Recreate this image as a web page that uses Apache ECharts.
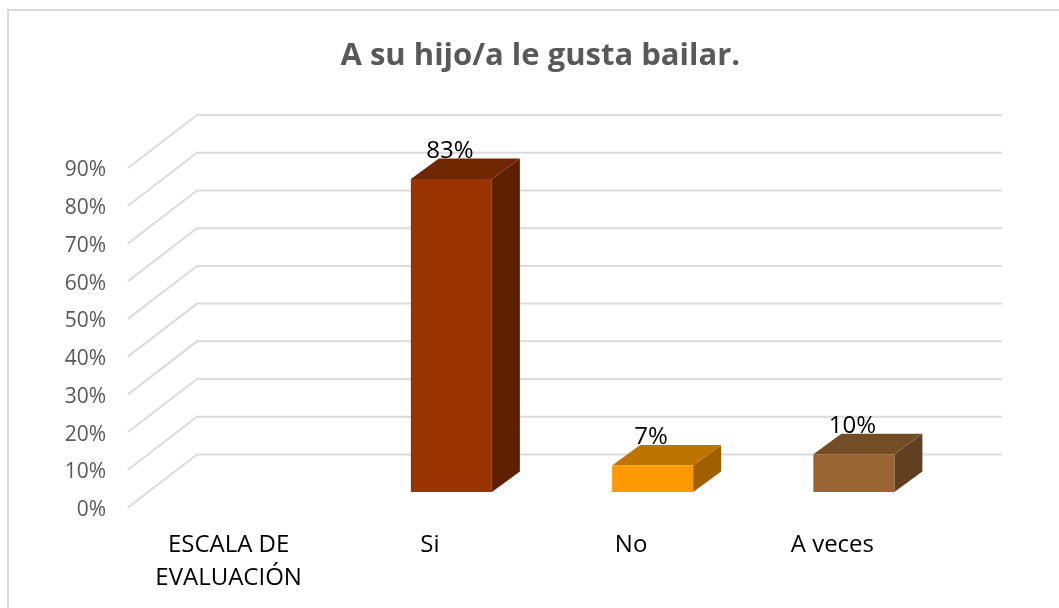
<!DOCTYPE html>
<html>
<head>
<meta charset="utf-8">
<style>
  html, body { margin: 0; padding: 0; background: #fff; }
  #chart { width: 1059px; height: 608px; }
</style>
<script src="https://cdn.jsdelivr.net/npm/echarts@6/dist/echarts.min.js"></script>
</head>
<body>
<div id="chart"></div>
<script>
var categories = ['ESCALA DE\nEVALUACIÓN', 'Si', 'No', 'A veces'];
var barValues = [null, 83, 7, 10];
var yTicks = [0, 10, 20, 30, 40, 50, 60, 70, 80, 90];
var faceColors = ['#993300', '#993300', '#FF9900', '#996633'];
var topColors = ['#722600', '#722600', '#BF7300', '#734D26'];
var sideColors = ['#5F2000', '#5F2000', '#A06000', '#604020'];

var chart = echarts.init(document.getElementById('chart'));

// 3d look: wall is pushed back by this many pixels
var wallDx = 69, wallDy = -53;
var barHalf = 40.5, barDx = 28, barDy = -20.5;
var floorDx = 21.5, floorDy = -15.5;

function renderWallLine(params, api) {
    var sys = params.coordSys;
    var y = api.coord([0, api.value(1)])[1];
    return {
        type: 'polyline',
        shape: {
            points: [
                [sys.x, y],
                [sys.x + wallDx, y + wallDy],
                [sys.x + sys.width + wallDx, y + wallDy]
            ]
        },
        style: { fill: null, stroke: '#dcdcdc', lineWidth: 2 }
    };
}

function renderBar(params, api) {
    var i = api.value(0);
    var top = api.coord([i, api.value(1)]);
    var base = api.coord([i, 0]);
    var l = top[0] + floorDx - barHalf;
    var r = top[0] + floorDx + barHalf;
    var t = top[1] + floorDy;
    var b = base[1] + floorDy;
    return {
        type: 'group',
        children: [
            {
                type: 'polygon',
                shape: { points: [[r, t], [r + barDx, t + barDy], [r + barDx, b + barDy], [r, b]] },
                style: { fill: sideColors[i] }
            },
            {
                type: 'polygon',
                shape: { points: [[l, t], [l + barDx, t + barDy], [r + barDx, t + barDy], [r, t]] },
                style: { fill: topColors[i] }
            },
            {
                type: 'rect',
                shape: { x: l, y: t, width: r - l, height: b - t },
                style: { fill: faceColors[i] }
            },
            {
                type: 'text',
                style: {
                    x: top[0] + floorDx - 1.5,
                    y: t - 28,
                    text: api.value(1) + '%',
                    fill: '#000',
                    font: '24px "Open Sans"',
                    align: 'center',
                    verticalAlign: 'middle'
                }
            }
        ]
    };
}

chart.setOption({
    animation: false,
    backgroundColor: '#fff',
    title: {
        text: 'A su hijo/a le gusta bailar.',
        left: 335.5,
        top: 36,
        textStyle: { fontFamily: 'Open Sans', fontSize: 31, fontWeight: 'bold', color: '#595959' }
    },
    graphic: [{
        type: 'polyline',
        shape: { points: [[8, 608], [8, 10], [1059, 10]] },
        style: { fill: null, stroke: '#d9d9d9', lineWidth: 2 },
        z: -1
    }],
    grid: { left: 128, right: 126, top: 168, bottom: 100.5 },
    xAxis: {
        type: 'category',
        data: categories,
        axisLine: { show: false },
        axisTick: { show: false },
        axisLabel: { interval: 0, margin: 21, fontFamily: 'Open Sans', fontSize: 24, color: '#000', lineHeight: 33 }
    },
    yAxis: {
        type: 'value',
        min: 0,
        max: 90,
        interval: 10,
        splitLine: { show: false },
        axisLine: { show: false },
        axisTick: { show: false },
        // top aligned with a small line box, nudges the labels down onto the line ends
        axisLabel: { margin: 22, fontFamily: 'Open Sans', fontSize: 21, color: '#595959', formatter: '{value}%', verticalAlign: 'top', lineHeight: 5 }
    },
    series: [
        {
            type: 'custom',
            renderItem: renderWallLine,
            data: yTicks.map(function (v) { return [0, v]; }),
            encode: { x: 0, y: 1 },
            z: 1,
            silent: true
        },
        {
            type: 'custom',
            renderItem: renderBar,
            data: barValues.map(function (v, i) { return [i, v]; }).filter(function (d) { return d[1] !== null; }),
            encode: { x: 0, y: 1 },
            z: 2,
            silent: true
        }
    ]
});
</script>
</body>
</html>
